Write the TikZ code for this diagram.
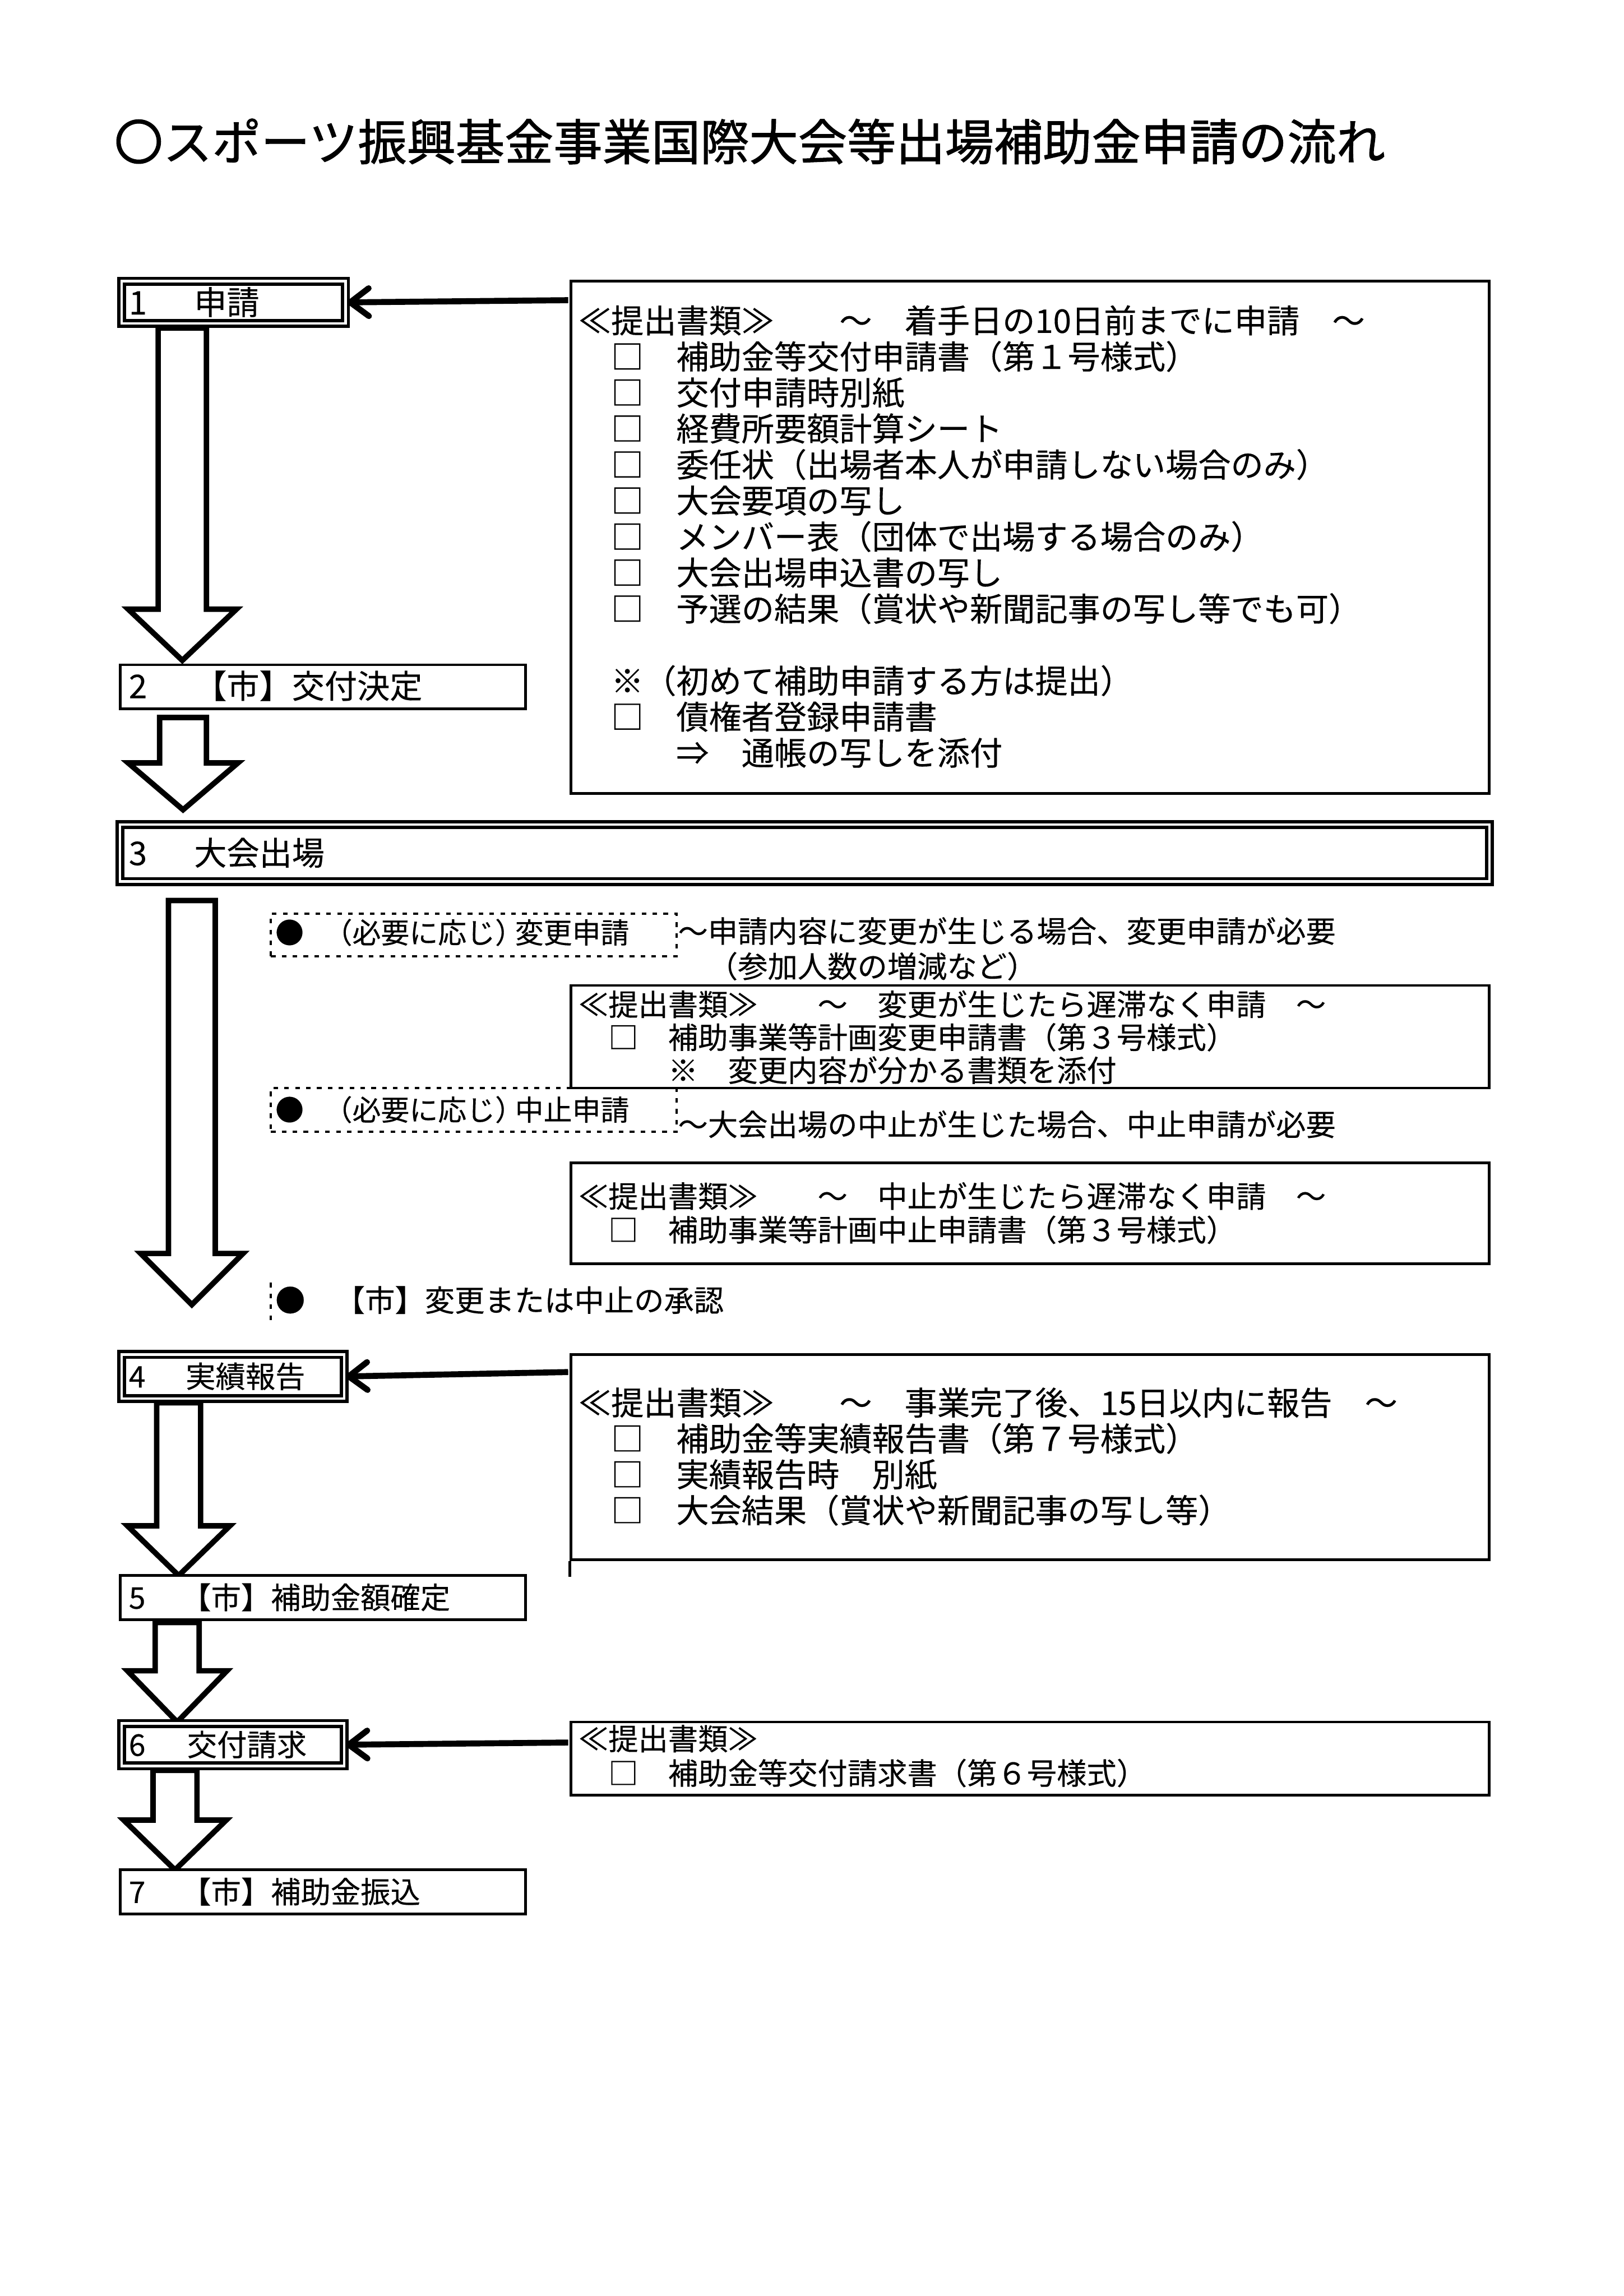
\documentclass[tikz,border=0pt]{standalone}
\usepackage{fontspec}
\setmainfont{Noto Sans CJK JP}[FakeBold=0.3]
\newfontfamily\titlefont{Noto Sans CJK JP}[FakeBold=1.2]
\usetikzlibrary{arrows.meta,fit}
\newcommand\fs[1]{\fontsize{#1}{#1}\selectfont}
\newcommand\nb[2]{\makebox[#1][l]{#2}}
\newcommand\blkarrow[5]{% #1 tip, #2 tip-to-top, #3 head length, #4 shaft half width, #5 head half width
  \draw[blk,shift={(#1)}] (-#4,-#2) -- (-#4,-#3) -- (-#5,-#3) -- (0,0) -- (#5,-#3) -- (#4,-#3) -- (#4,-#2) -- cycle;}
\begin{document}
\begin{tikzpicture}[x=0.18936mm,y=-0.18936mm,
  frame/.style={draw,line width=1pt,inner sep=0pt,fill=white},
  dframe/.style={draw,line width=1.2pt,double,double distance=0.9pt,inner sep=0pt,fill=white},
  dashbox/.style={draw,line width=0.9pt,dash pattern=on 1.7pt off 2.3pt,inner sep=0pt},
  dashline/.style={line width=0.9pt,dash pattern=on 1.7pt off 2.3pt},
  blk/.style={draw,line width=2pt,fill=white,line join=miter},
  conn/.style={line width=2.2pt,-{Straight Barb[length=2.4mm,width=3.6mm,round]}},
  t/.style={anchor=base west,inner sep=0pt,outer sep=0pt},
  t12/.style={t,font=\fs{12}},
  t11/.style={t,font=\fs{11}},
  t105/.style={t,font=\fs{10.5}},
  ]
\useasboundingbox (0,0) rectangle (1109,1568);
\fill[white] (0,0) rectangle (1109,1568);

% title
\node[t,font=\titlefont\fs{18}] (title) at (78,109.4) {〇スポーツ振興基金事業国際大会等出場補助金申請の流れ};

% tip coordinates of block arrows
\coordinate (a1) at (124.5,451);
\coordinate (a2) at (125,553);
\coordinate (a3) at (131,891);
\coordinate (a4) at (122,1076);
\coordinate (a5) at (121,1176);
\coordinate (a6) at (119.5,1277);
\blkarrow{a1}{227}{35}{16.5}{37}
\blkarrow{a2}{63}{32}{16}{37.5}
\blkarrow{a3}{276}{35}{16}{35}
\blkarrow{a4}{118}{34}{15}{35}
\blkarrow{a5}{68}{35}{15}{34}
\blkarrow{a6}{68}{34}{15}{35}

% step boxes
\node[dframe,fit={(83,192) (236,221)}] (box1) {};
\node[frame,fit={(82,454) (359,484)}] (box2) {};
\node[dframe,fit={(82,563) (1017,602)}] (box3) {};
\node[dframe,fit={(83,925) (235,955)}] (box4) {};
\node[frame,fit={(82,1076) (359,1106)}] (box5) {};
\node[dframe,fit={(83,1177) (235,1206)}] (box6) {};
\node[frame,fit={(82,1277) (359,1307)}] (box7) {};

% document boxes
\node[frame,fit={(390,192) (1017,542)}] (doc1) {};
\node[frame,fit={(390,673) (1017,743)}] (doc2) {};
\node[frame,fit={(390,794) (1017,863)}] (doc3) {};
\node[frame,fit={(390,925) (1017,1065)}] (doc4) {};
\node[frame,fit={(390,1176) (1017,1226)}] (doc6) {};
\draw[line width=1pt] (doc4.south west) -- ++(0,11);

% dashed boxes
\node[dashbox,fit={(185,624) (462,653)}] (d1) {};
\node[dashbox,fit={(185,743) (462,773)}] (d2) {};
\draw[dashline] (185,876) -- (185,902);

% step labels
\node[t12] (l1) at (88,214.8) {\nb{2em}{1}申請};
\node[t12] (l2) at (88,476.8) {\nb{2em}{2}【市】交付決定};
\node[t12] (l3) at (88,590.8) {\nb{2em}{3}大会出場};
\node[t11] (l4) at (88,947.6) {\nb{1.9em}{4}実績報告};
\node[t11] (l5) at (88,1098.6) {\nb{1.75em}{5}【市】補助金額確定};
\node[t11] (l6) at (88,1199.1) {\nb{1.95em}{6}交付請求};
\node[t11] (l7) at (88,1299.6) {\nb{1.75em}{7}【市】補助金振込};

% document box 1
\node[t12] (p1a) at (395,227.3) {≪提出書類≫　　～　着手日の10日前までに申請　～};
\node[t12] (p1b) at (395,251.9) {　□　補助金等交付申請書（第１号様式）};
\node[t12] (p1c) at (395,276.5) {　□　交付申請時別紙};
\node[t12] (p1d) at (395,301.1) {　□　経費所要額計算シート};
\node[t12] (p1e) at (395,325.7) {　□　委任状（出場者本人が申請しない場合のみ）};
\node[t12] (p1f) at (395,350.3) {　□　大会要項の写し};
\node[t12] (p1g) at (395,374.9) {　□　メンバー表（団体で出場する場合のみ）};
\node[t12] (p1h) at (395,399.5) {　□　大会出場申込書の写し};
\node[t12] (p1i) at (395,424.1) {　□　予選の結果（賞状や新聞記事の写し等でも可）};
\node[t12] (p1j) at (395,473.3) {　※（初めて補助申請する方は提出）};
\node[t12] (p1k) at (395,497.9) {　□　債権者登録申請書};
\node[t12] (p1l) at (395,522.5) {　　　⇒　通帳の写しを添付};

% change / cancel
\node[t105] (q1) at (188,644.2) {●　\hspace{-0.3em}（必要に応じ）\hspace{-0.3em}変更申請};
\node[t11] (s1) at (463,643.6) {～申請内容に変更が生じる場合、変更申請が必要};
\node[t11] (s1b) at (463,667.6) {　（参加人数の増減など）};
\node[t11] (p2a) at (395,693.6) {≪提出書類≫　　～　変更が生じたら遅滞なく申請　～};
\node[t11] (p2b) at (395,716.1) {　□　補助事業等計画変更申請書（第３号様式）};
\node[t11] (p2c) at (395,738.6) {　　　※　変更内容が分かる書類を添付};
\node[t105] (q2) at (188,765.2) {●　\hspace{-0.3em}（必要に応じ）\hspace{-0.3em}中止申請};
\node[t11] (s2) at (463,775.6) {～大会出場の中止が生じた場合、中止申請が必要};
\node[t11] (p3a) at (395,824.6) {≪提出書類≫　　～　中止が生じたら遅滞なく申請　～};
\node[t11] (p3b) at (395,847.6) {　□　補助事業等計画中止申請書（第３号様式）};
\node[t11] (q3) at (188,895.6) {●　【市】変更または中止の承認};

% document box 4
\node[t12] (p4a) at (395,966.3) {≪提出書類≫　　～　事業完了後、15日以内に報告　～};
\node[t12] (p4b) at (395,990.8) {　□　補助金等実績報告書（第７号様式）};
\node[t12] (p4c) at (395,1015.3) {　□　実績報告時　別紙};
\node[t12] (p4d) at (395,1039.8) {　□　大会結果（賞状や新聞記事の写し等）};

% document box 6
\node[t11] (p6a) at (395,1195.1) {≪提出書類≫};
\node[t11] (p6b) at (395,1218.6) {　□　補助金等交付請求書（第６号様式）};

% connectors
\coordinate (c1) at (388,205);
\coordinate (c4) at (388,937);
\coordinate (c6) at (388,1190);
\draw[conn] (c1) -- (box1.east);
\draw[conn] (c4) -- (box4.east);
\draw[conn] (c6) -- (box6.east);
\end{tikzpicture}
\end{document}
